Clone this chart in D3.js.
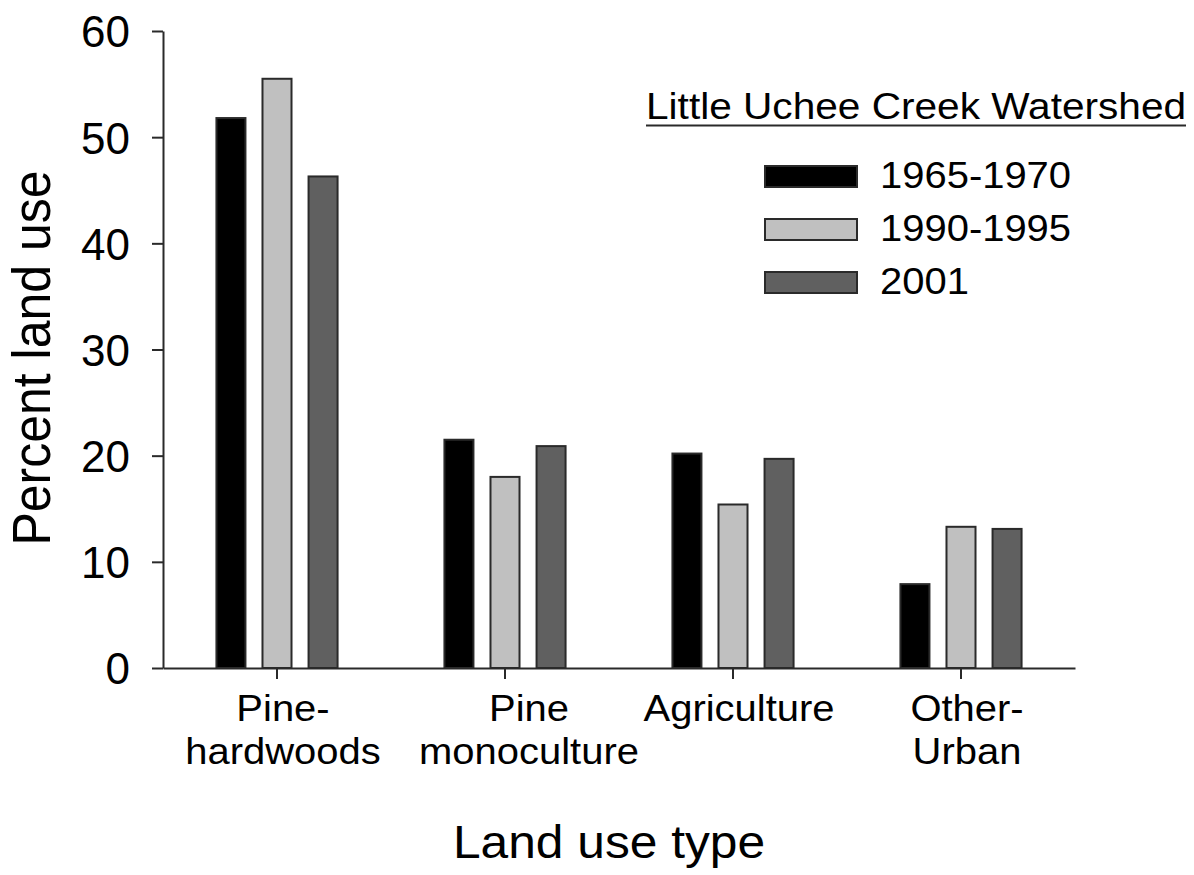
<!DOCTYPE html>
<html>
<head>
<meta charset="utf-8">
<script src="https://cdn.jsdelivr.net/npm/d3@7"></script>
<style>
  body { margin: 0; background: #fff; }
  text { font-family: Arial, "Liberation Sans", sans-serif; fill: #000; }
</style>
</head>
<body>
<div id="bar"></div>
<script>
// Data
const categories = ["Pine-hardwoods", "Pine monoculture", "Agriculture", "Other-Urban"];
const categoryLines = [["Pine-", "hardwoods"], ["Pine", "monoculture"], ["Agriculture"], ["Other-", "Urban"]];
const series = ["1965-1970", "1990-1995", "2001"];
const values1965 = [51.8, 21.5, 20.2, 7.9];
const values1990 = [55.5, 18.0, 15.4, 13.3];
const values2001 = [46.3, 20.9, 19.7, 13.1];
const yTicks = [0, 10, 20, 30, 40, 50, 60];

const seriesValues = [values1965, values1990, values2001];
const fills = ["#000000", "#c0c0c0", "#606060"];

const width = 1194,
  height = 875;
const margin = { top: 31, right: 119, bottom: 207, left: 163 };
const stretch = 1.08; // the original text is slightly wider than Arial

const svg = d3
  .select("#bar")
  .append("svg")
  .attr("width", width)
  .attr("height", height)
  .attr("viewBox", [0, 0, width, height]);

/* Scales */
const xScale = d3
  .scaleBand()
  .domain(categories)
  .range([margin.left, width - margin.right])
  .padding(0);

const xSubgroup = d3
  .scaleBand()
  .domain(series)
  .range([0, xScale.bandwidth()])
  .paddingInner(0.37)
  .paddingOuter(1.16);

const yScale = d3
  .scaleLinear()
  .domain([0, 60])
  .range([height - margin.bottom, margin.top]);

const color = d3.scaleOrdinal().domain(series).range(fills);

// helper for stretched text
const addText = (g, x, y, str, size, anchor) =>
  g
    .append("text")
    .attr("transform", `translate(${x},${y}) scale(${stretch},1)`)
    .attr("text-anchor", anchor)
    .style("font-size", size + "px")
    .text(str);

/* Bars */
const rows = categories.map((c, i) => ({
  category: c,
  values: series.map((s, j) => ({ key: s, value: seriesValues[j][i] })),
}));

svg
  .append("g")
  .selectAll("g")
  .data(rows)
  .join("g")
  .attr("transform", (d) => `translate(${xScale(d.category)},0)`)
  .selectAll("rect")
  .data((d) => d.values)
  .join("rect")
  .attr("x", (d) => xSubgroup(d.key))
  .attr("y", (d) => yScale(d.value))
  .attr("width", xSubgroup.bandwidth())
  .attr("height", (d) => yScale(0) - yScale(d.value))
  .attr("fill", (d) => color(d.key))
  .attr("stroke", "#2a2a2a")
  .attr("stroke-width", 2);

/* Axes */
const yAxis = d3
  .axisLeft(yScale)
  .tickValues(yTicks)
  .tickSize(11)
  .tickSizeOuter(0)
  .tickPadding(22);

const yGroup = svg
  .append("g")
  .attr("transform", `translate(${margin.left},0)`)
  .call(yAxis);

yGroup.selectAll("text").style("font-size", "44px").attr("dy", "0.36em");

const xAxis = d3
  .axisBottom(xScale)
  .tickSize(11)
  .tickSizeOuter(0)
  .tickFormat("");

svg
  .append("g")
  .attr("transform", `translate(0,${height - margin.bottom})`)
  .call(xAxis);

svg.selectAll(".domain, .tick line").attr("stroke", "#2a2a2a").attr("stroke-width", 2);

// category labels, one or two lines each
const labels = svg.append("g");
categories.forEach((c, i) => {
  const cx = xScale(c) + xScale.bandwidth() / 2 + 6;
  categoryLines[i].forEach((line, k) => {
    addText(labels, cx + (i === 1 ? 18 : 0), 721 + k * 43, line, 37, "middle");
  });
});

/* Axis titles */
addText(svg, 609, 858, "Land use type", 46, "middle");

svg
  .append("text")
  .attr("transform", `translate(50,358) rotate(-90) scale(1,${stretch})`)
  .attr("text-anchor", "middle")
  .style("font-size", "50px")
  .text("Percent land use");

/* Legend */
const legend = svg.append("g");

addText(legend, 646, 119, "Little Uchee Creek Watershed", 37.6, "start");

legend
  .append("line")
  .attr("x1", 646)
  .attr("x2", 1186)
  .attr("y1", 125.5)
  .attr("y2", 125.5)
  .attr("stroke", "#2a2a2a")
  .attr("stroke-width", 2);

legend
  .selectAll("rect")
  .data(series)
  .join("rect")
  .attr("x", 765)
  .attr("y", (d, i) => 166 + i * 53)
  .attr("width", 92)
  .attr("height", 21)
  .attr("fill", (d) => color(d))
  .attr("stroke", "#2a2a2a")
  .attr("stroke-width", 2);

series.forEach((s, i) => {
  addText(legend, 880, 188 + i * 53, s, 37, "start");
});
</script>
</body>
</html>
